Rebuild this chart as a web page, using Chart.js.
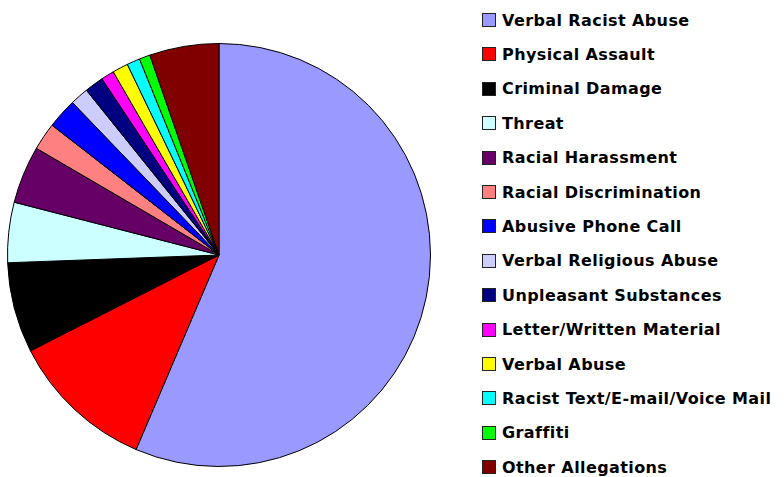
<!DOCTYPE html>
<html>
<head>
<meta charset="utf-8">
<script src="https://cdn.jsdelivr.net/npm/chart.js@4.4.0/dist/chart.umd.min.js"></script>
<style>
  body { margin: 0; background: #fff; width: 784px; height: 477px; overflow: hidden; position: relative; }
  #pieWrap { position: absolute; left: 7px; top: 43px; width: 424px; height: 424px; }
  #legend { position: absolute; left: 482px; top: 0; font-family: "Comic Sans MS", "DejaVu Sans", sans-serif; font-weight: bold; font-size: 16px; letter-spacing: 0.4px; color: #000; }
  .legend-item { position: absolute; left: 0; display: flex; align-items: center; white-space: nowrap; height: 20px; }
  .legend-box { width: 12px; height: 12px; border: 1px solid #222; margin-right: 6px; flex: none; }
</style>
</head>
<body>
<div id="pieWrap"><canvas id="pieChart"></canvas></div>
<div id="legend"></div>
<script>
const categories = [
  'Verbal Racist Abuse', 'Physical Assault', 'Criminal Damage', 'Threat',
  'Racial Harassment', 'Racial Discrimination', 'Abusive Phone Call',
  'Verbal Religious Abuse', 'Unpleasant Substances', 'Letter/Written Material',
  'Verbal Abuse', 'Racist Text/E-mail/Voice Mail', 'Graffiti', 'Other Allegations'
];
const shares = [56.4, 11.1, 6.9, 4.6, 4.4, 2.1, 2.3, 1.4, 1.45, 1.0, 1.2, 1.0, 0.83, 5.3];
const colors = [
  '#9999ff', '#ff0000', '#000000', '#ccffff', '#660066', '#ff8080', '#0000ff',
  '#ccccff', '#000080', '#ff00ff', '#ffff00', '#00ffff', '#00ff00', '#800000'
];

const ctx = document.getElementById('pieChart');
new Chart(ctx, {
  type: 'pie',
  data: {
    labels: categories,
    datasets: [{
      data: shares,
      backgroundColor: colors,
      borderColor: '#000',
      borderWidth: 1
    }]
  },
  options: {
    responsive: true,
    maintainAspectRatio: false,
    animation: false,
    layout: { padding: 0 },
    plugins: {
      legend: { display: false },
      tooltip: { enabled: false }
    }
  }
});

// legend built from the same arrays
const legendEl = document.getElementById('legend');
categories.forEach((name, i) => {
  const item = document.createElement('div');
  item.className = 'legend-item';
  item.style.top = (10 + i * 34.4) + 'px';
  item.innerHTML = `<span class="legend-box" style="background:${colors[i]}"></span><span>${name}</span>`;
  legendEl.appendChild(item);
});
</script>
</body>
</html>
